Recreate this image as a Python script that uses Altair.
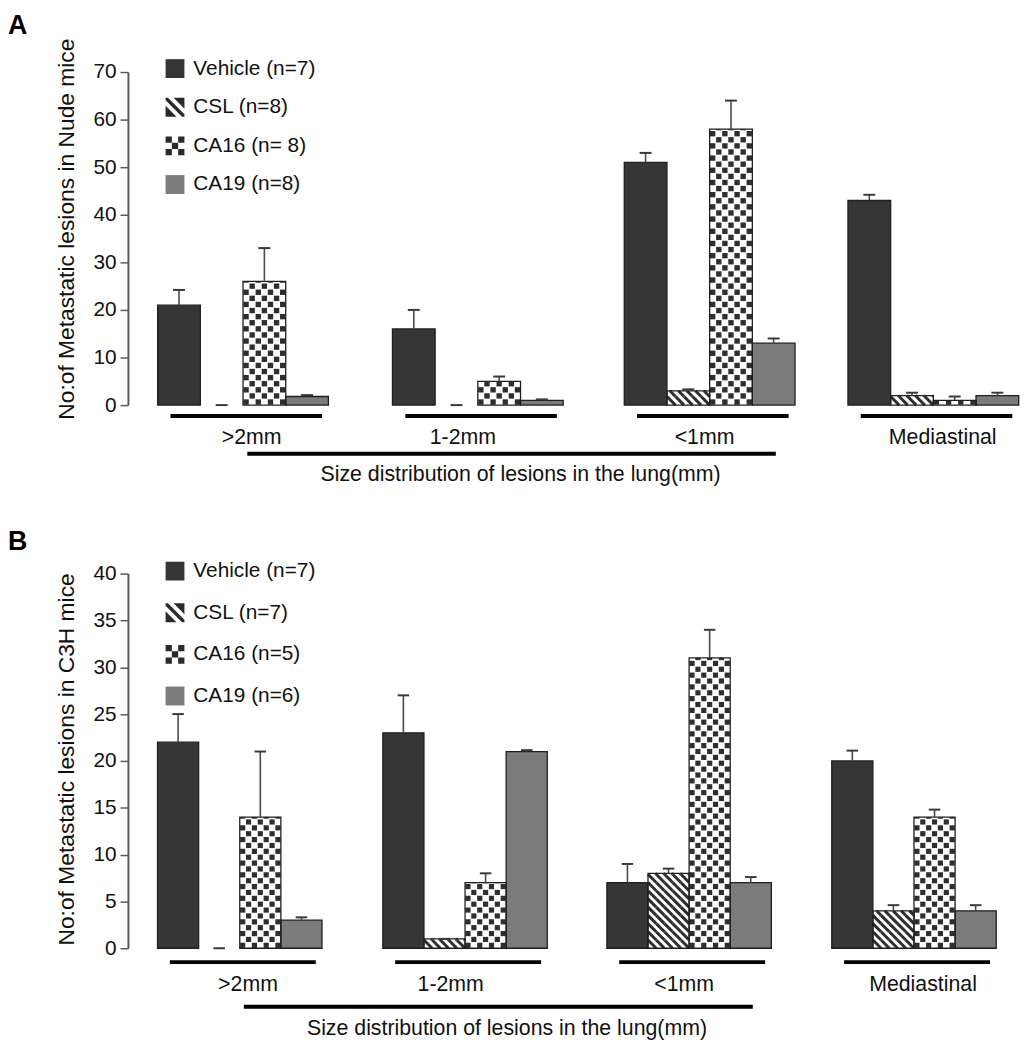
import json
import altair as alt
import pandas as pd

# ---------------- data ----------------
groups = [">2mm", "1-2mm", "<1mm", "Mediastinal"]
series = ["Vehicle", "CSL", "CA16", "CA19"]
panel_letters = ["A", "B"]
y_titles = ["No:of Metastatic lesions in Nude mice", "No:of Metastatic lesions in C3H mice"]
x_title = "Size distribution of lesions in the lung(mm)"

a_labels = ["Vehicle (n=7)", "CSL (n=8)", "CA16 (n= 8)", "CA19 (n=8)"]
a_vehicle = [21, 16, 51, 43]
a_vehicle_err = [3.2, 4.0, 2.0, 1.2]
a_csl = [0, 0, 3, 2]
a_csl_err = [0, 0, 0.3, 0.6]
a_ca16 = [26, 5, 58, 1]
a_ca16_err = [7, 1, 6, 0.8]
a_ca19 = [1.8, 1, 13, 2]
a_ca19_err = [0.3, 0.2, 1, 0.6]

b_labels = ["Vehicle (n=7)", "CSL (n=7)", "CA16 (n=5)", "CA19 (n=6)"]
b_vehicle = [22, 23, 7, 20]
b_vehicle_err = [3, 4, 2, 1.1]
b_csl = [0, 1, 8, 4]
b_csl_err = [0, 0, 0.5, 0.6]
b_ca16 = [14, 7, 31, 14]
b_ca16_err = [7, 1, 3, 0.8]
b_ca19 = [3, 21, 7, 4]
b_ca19_err = [0.3, 0.15, 0.6, 0.6]

a_ticks = [0, 10, 20, 30, 40, 50, 60, 70]
b_ticks = [0, 5, 10, 15, 20, 25, 30, 35, 40]

# ---------------- styling / layout ----------------
FONT = "Liberation Sans"
BAR_FILLS = ["#363636", "#ffffff", "#ffffff", "#7b7b7b"]
LEG_FILLS = ["#363636", "#2a2a2a", "#2a2a2a", "#7b7b7b"]
PAT = "#2e2e2e"
LABEL_POS = [2.2, 1.65, 1.88, 2.22]   # group label centre, in bar widths from group start

SQ = "M-1,-1H1V1H-1Z"
STRIPE_PATH = (SQ + " M-0.75,-1L1,0.75L1,0.15L-0.15,-1Z"
               " M-1,-0.75L-1,-0.15L0.15,1L0.75,1Z")
t = 1.0 / 3
CHECK_PATH = (SQ +
              f" M{-t},-1V{-t}H{t}V-1Z"
              f" M-1,{-t}V{t}H{-t}V{-t}Z"
              f" M{t},{-t}V{t}H1V{-t}Z"
              f" M{-t},{t}V1H{t}V{t}Z")
LEG_PATHS = [SQ, STRIPE_PATH, CHECK_PATH, SQ]


def long_table(vals, errs, labels):
    rows = []
    for s, lab, vl, el in zip(series, labels, vals, errs):
        for g, v, e in zip(groups, vl, el):
            rows.append({"group": g, "series": s, "label": lab, "value": v, "err": e})
    return pd.DataFrame(rows)


def panel(df, labels, letter, ytitle, ticks, width, height, ymax, starts, xmin, xmax,
          letter_y, ul_off, lab_off, big_off, title_off, legend_y, legend_row, ytitle_y):
    px_unit = height / ymax
    slot_px = width / (xmax - xmin)
    cy_c = slot_px / 7 / px_unit
    cy_s = slot_px / 5 / px_unit

    xscale = alt.Scale(domain=[xmin, xmax], nice=False, zero=False)
    yscale = alt.Scale(domain=[0, ymax], nice=False, zero=True)
    yaxis = alt.Axis(values=ticks, title=ytitle, grid=False, titleY=ytitle_y)

    def X(f):
        return alt.X(f, type="quantitative", scale=xscale, axis=None)

    def X2(f):
        return alt.X2(f)

    def Y(f):
        return alt.Y(f, type="quantitative", scale=yscale, axis=yaxis)

    gstart = f"{json.dumps(starts)}[indexof({json.dumps(groups)}, datum.group)]"
    xs_expr = f"{gstart} + indexof({json.dumps(series)}, datum.series)"
    base = alt.Chart(df).transform_calculate(
        xs=xs_expr, top="datum.value + datum.err", zero="0"
    ).transform_calculate(
        xe="datum.xs + 1", xc="datum.xs + 0.5",
        c1="datum.xs + 0.36", c2="datum.xs + 0.64"
    )

    bars = base.transform_filter("datum.value > 0").mark_rect().encode(
        x=X("xs"), x2=X2("xe"), y=Y("value"), y2=alt.Y2("zero"),
        color=alt.Color("series:N", scale=alt.Scale(domain=series, range=BAR_FILLS), legend=None),
    )

    checker = base.transform_filter("datum.series == 'CA16'").transform_calculate(
        row=f"sequence(0, ceil(datum.value / {cy_c}))"
    ).transform_flatten(["row"]).transform_calculate(
        col="sequence(0, 7)"
    ).transform_flatten(["col"]).transform_filter(
        "(datum.row + datum.col) % 2 == 0"
    ).transform_calculate(
        kx1="datum.xs + (datum.col + 0.06) / 7",
        kx2="datum.xs + (datum.col + 0.94) / 7",
        ky1=f"(datum.row + 0.06) * {cy_c}",
        ky2=f"min((datum.row + 0.94) * {cy_c}, datum.value)",
    ).transform_filter("datum.ky2 > datum.ky1").mark_rect(color=PAT).encode(
        x=X("kx1"), x2=X2("kx2"), y=Y("ky1"), y2=alt.Y2("ky2")
    )

    stripes = base.transform_filter("datum.series == 'CSL' && datum.value > 0").transform_calculate(
        row=f"sequence(0, ceil(datum.value / {cy_s}))"
    ).transform_flatten(["row"]).transform_calculate(
        col="sequence(0, 5)"
    ).transform_flatten(["col"]).transform_calculate(
        sy1=f"min((datum.row + 1) * {cy_s}, datum.value)",
        sy2=f"datum.row * {cy_s}",
    ).transform_calculate(
        sx1=f"datum.xs + (datum.col + ((datum.row + 1) * {cy_s} - datum.sy1) / {cy_s}) / 5",
        sx2="datum.xs + (datum.col + 1) / 5",
    ).mark_rule(color=PAT, strokeWidth=3, strokeCap="butt").encode(
        x=X("sx1"), x2=X2("sx2"), y=Y("sy1"), y2=alt.Y2("sy2")
    )

    outlines = base.transform_filter("datum.value > 0").mark_rect(
        fillOpacity=0, stroke="#1e1e1e", strokeWidth=1.3
    ).encode(x=X("xs"), x2=X2("xe"), y=Y("value"), y2=alt.Y2("zero"))

    err = base.mark_rule(color="#4a4a4a", strokeWidth=1.6).encode(
        x=X("xc"), y=Y("value"), y2=alt.Y2("top")
    )
    caps = base.mark_rule(color="#3a3a3a", strokeWidth=2).encode(
        x=X("c1"), x2=X2("c2"), y=Y("top")
    )

    leg = alt.Legend(
        title=None, orient="none", legendX=37, legendY=legend_y, direction="vertical",
        symbolSize=361, symbolStrokeWidth=1.3, symbolStrokeColor="#111",
        symbolOpacity=1, labelFontSize=21, labelFont=FONT, labelColor="#111",
        labelOffset=8, rowPadding=legend_row, padding=0, labelLimit=400,
    )
    legend_pts = base.mark_point(filled=True, clip=True, size=361).encode(
        x=X("xs"), y=alt.value(-3000),
        fill=alt.Fill("label:N", scale=alt.Scale(domain=labels, range=LEG_FILLS), legend=leg),
        shape=alt.Shape("label:N", scale=alt.Scale(domain=labels, range=LEG_PATHS), legend=leg),
        stroke=alt.value("#111"), strokeWidth=alt.value(1.3),
    )

    ann = alt.Chart(pd.DataFrame({"group": groups})).transform_calculate(
        gx=f"{json.dumps(starts)}[indexof({json.dumps(groups)}, datum.group)]",
        lp=f"{json.dumps(LABEL_POS)}[indexof({json.dumps(groups)}, datum.group)]",
    ).transform_calculate(
        u1="datum.gx + 0.3", u2="datum.gx + 3.85", gc="datum.gx + datum.lp"
    )
    underl = ann.mark_rule(color="#000", strokeWidth=4).encode(
        x=X("u1"), x2=X2("u2"), y=alt.value(height + ul_off)
    )
    glab = ann.mark_text(fontSize=21.5, baseline="middle", align="center", color="#111").encode(
        x=X("gc"), y=alt.value(height + lab_off), text="group:N"
    )

    tdf = alt.Chart(pd.DataFrame({"title": [x_title]})).transform_calculate(
        b1=f"{starts[0] + 2.1}", b2=f"{starts[2] + 3.55}", tc=f"{starts[0] + 8.5}"
    )
    bigline = tdf.mark_rule(color="#000", strokeWidth=4).encode(
        x=X("b1"), x2=X2("b2"), y=alt.value(height + big_off)
    )
    xtitle = tdf.mark_text(fontSize=21.5, baseline="middle", align="center", color="#111").encode(
        x=X("tc"), y=alt.value(height + title_off), text="title:N"
    )

    let = alt.Chart(pd.DataFrame({"letter": [letter]})).mark_text(
        fontSize=27, fontWeight="bold", align="left", baseline="alphabetic", color="#000"
    ).encode(x=alt.value(-121), y=alt.value(letter_y), text="letter:N")

    return alt.layer(
        bars, checker, stripes, outlines, err, caps, legend_pts,
        underl, glab, bigline, xtitle, let
    ).properties(width=width, height=height)


dfa = long_table([a_vehicle, a_csl, a_ca16, a_ca19],
                 [a_vehicle_err, a_csl_err, a_ca16_err, a_ca19_err], a_labels)
dfb = long_table([b_vehicle, b_csl, b_ca16, b_ca19],
                 [b_vehicle_err, b_csl_err, b_ca16_err, b_ca19_err], b_labels)

pa = panel(dfa, a_labels, panel_letters[0], y_titles[0], a_ticks, 900, 336, 70,
           starts=[0, 5.5, 10.93, 16.17], xmin=-0.696, xmax=20.2,
           letter_y=-38, ul_off=11, lab_off=33, big_off=49, title_off=71,
           legend_y=-14, legend_row=14, ytitle_y=158)
pb = panel(dfb, b_labels, panel_letters[1], y_titles[1], b_ticks, 876, 378, 40,
           starts=[0, 5.48, 10.93, 16.4], xmin=-0.72, xmax=20.4,
           letter_y=-24, ul_off=14, lab_off=37, big_off=59, title_off=82,
           legend_y=-13, legend_row=17, ytitle_y=187)

chart = alt.vconcat(pa, pb, spacing=170, bounds="flush").resolve_scale(
    x="independent", y="independent", color="independent",
    fill="independent", shape="independent"
).resolve_legend(fill="independent", shape="independent").properties(
    padding={"left": 0, "top": 0, "right": 0, "bottom": 0}
).configure(font=FONT).configure_view(stroke=None).configure_axis(
    domainColor="#5a5a5a", domainWidth=2, tickColor="#5a5a5a", tickWidth=1.5, tickSize=8,
    labelFontSize=21, labelColor="#111", labelPadding=4, labelFont=FONT,
    titleFontSize=23, titleColor="#111", titleFontWeight="normal", titleFont=FONT,
    titlePadding=15,
)

chart.save("out.html", embed_options={"renderer": "svg", "actions": False})
